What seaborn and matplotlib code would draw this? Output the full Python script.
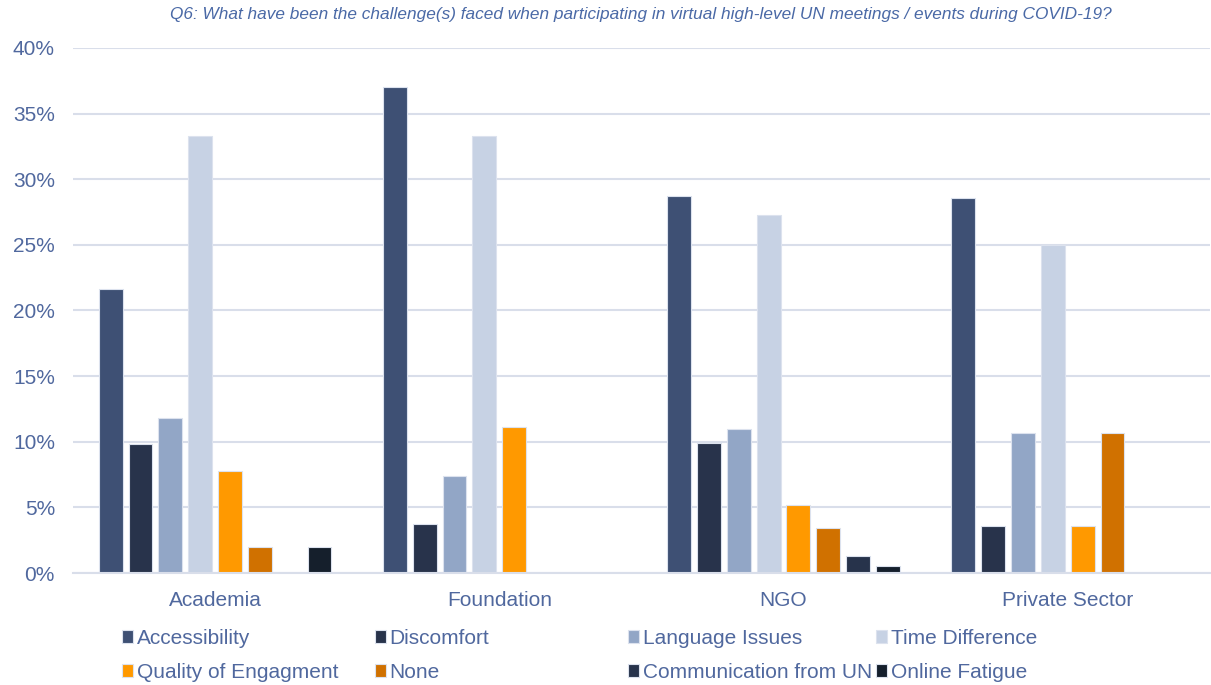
import numpy as np
import pandas as pd
import matplotlib
matplotlib.use("Agg")
import matplotlib.pyplot as plt
import seaborn as sns

# ---- data (percent of respondents per sector) ----
sectors = ["Academia", "Foundation", "NGO", "Private Sector"]
challenges = ["Accessibility", "Discomfort", "Language Issues", "Time Difference",
              "Quality of Engagment", "None", "Communication from UN", "Online Fatigue"]

accessibility = [21.6, 37.0, 28.7, 28.6]
discomfort = [9.8, 3.7, 9.9, 3.6]
language_issues = [11.8, 7.4, 11.0, 10.7]
time_difference = [33.3, 33.3, 27.3, 25.0]
quality_engagement = [7.8, 11.1, 5.2, 3.6]
none_ = [1.96, 0.0, 3.4, 10.7]
communication_un = [0.0, 0.0, 1.3, 0.0]
online_fatigue = [1.96, 0.0, 0.5, 0.0]

colors = ["#3E5074", "#28334B", "#92A6C6", "#C7D2E4",
          "#FF9900", "#D07100", "#27334B", "#151F2C"]

series = [accessibility, discomfort, language_issues, time_difference,
          quality_engagement, none_, communication_un, online_fatigue]

rows = []
for name, vals in zip(challenges, series):
    for sec, v in zip(sectors, vals):
        rows.append({"Sector": sec, "Challenge": name, "Pct": v})
df = pd.DataFrame(rows)

text_col = "#50689E"
grid_col = "#D9DEEA"

sns.set_style("white")
plt.rcParams["font.family"] = ["Liberation Sans", "DejaVu Sans"]

fig = plt.figure(figsize=(12.11, 6.85), dpi=100)
ax = fig.add_axes([0.0603, 0.1635, 0.9387, 0.7665])

sns.barplot(data=df, x="Sector", y="Pct", hue="Challenge", hue_order=challenges,
            order=sectors, palette=colors, saturation=1, width=0.84, gap=0.2,
            edgecolor="#DCE2EE", linewidth=0.8, ax=ax)

handles, labels = ax.get_legend_handles_labels()
ax.get_legend().remove()

ax.set_ylim(0, 40)
ax.set_xlim(-0.5, 3.5)
ax.set_yticks(np.arange(0, 41, 5))
ax.set_yticklabels(["{}%".format(t) for t in range(0, 41, 5)])
ax.yaxis.grid(True, color=grid_col, linewidth=1.5)
ax.set_axisbelow(True)
for s in ["top", "right", "left"]:
    ax.spines[s].set_visible(False)
ax.spines["bottom"].set_color(grid_col)
ax.spines["bottom"].set_linewidth(1.5)
ax.tick_params(axis="both", length=0, labelsize=15, colors=text_col)
ax.tick_params(axis="x", pad=13)
ax.tick_params(axis="y", pad=13)
ax.set_xlabel("")
ax.set_ylabel("")

fig.text(0.529, 1 - 15 / 685,
         "Q6: What have been the challenge(s) faced when participating in virtual high-level UN meetings / events during COVID-19?",
         ha="center", va="center", fontsize=12.4, style="italic", color="#4A69A6")

# legend in four columns, placed like the original
col_x = [122, 375, 628, 876]
for i, x in enumerate(col_x):
    idx = [i, i + 4]
    leg = fig.legend([handles[j] for j in idx], [labels[j] for j in idx],
                     loc="upper left", bbox_to_anchor=(x / 1211, 1 - 629 / 685),
                     frameon=False, fontsize=15, borderpad=0, borderaxespad=0,
                     handlelength=0.55, handleheight=0.55, handletextpad=0.15,
                     labelspacing=0.72)
    for t in leg.get_texts():
        t.set_color(text_col)

fig.savefig("out.png", dpi=100)
